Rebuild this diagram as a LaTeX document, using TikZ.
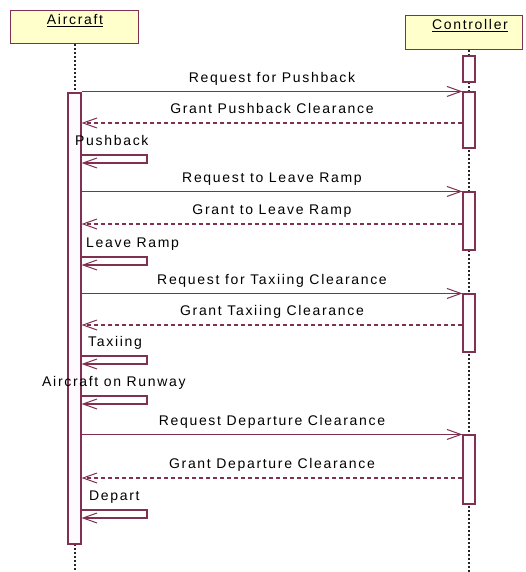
\documentclass[tikz,border=0pt]{standalone}
\usepackage{fontspec}
\setmainfont{Liberation Sans}[LetterSpace=12]
\usetikzlibrary{arrows.meta}
\definecolor{umlline}{RGB}{128,48,80}
\definecolor{headfill}{RGB}{255,255,204}
\definecolor{actfill}{RGB}{255,250,252}
\tikzset{
  head/.style={draw=umlline, fill=headfill, line width=1.1pt, inner sep=0pt, anchor=north west},
  actbox/.style={draw=umlline, fill=actfill, line width=1.1pt, inner sep=0pt, minimum width=13pt},
  lifeline/.style={black!85, line width=1.3pt, dash pattern=on 1.6pt off 2.4pt},
  msg/.style={umlline, line width=1.1pt, -{Straight Barb[length=14pt,width=10pt,line width=1pt]}},
  reply/.style={msg, dash pattern=on 4pt off 3pt},
  loopmsg/.style={msg, rounded corners=0pt},
  lbl/.style={font=\fontsize{14}{16}\selectfont, inner sep=0pt, text=black},
  mlbl/.style={lbl, anchor=base},
  slbl/.style={lbl, anchor=base west},
}
\begin{document}
\begin{tikzpicture}[x=1pt, y=-1pt]
\useasboundingbox (0,0) rectangle (525,572);
\fill[white] (0,0) rectangle (525,572);

% headers
\node[head, minimum width=128pt, minimum height=33pt] (A) at (10,10) {};
\node[head, minimum width=117pt, minimum height=34pt] (C) at (405,15) {};
\node[mlbl] (At) at (75,24.5) {\underline{Aircraft}};
\node[mlbl] (Ct) at (470,29.5) {\underline{Controller}};

% lifelines
\coordinate (Aend) at (75,572);
\coordinate (Cend) at (469,572);
\draw[lifeline] (A.south -| Aend) -- (Aend);
\draw[lifeline] (C.south -| Cend) -- (Cend);

% activations
\node[actbox, minimum height=451pt] (a1) at (74.5,318.5) {};
\node[actbox, minimum width=12pt, minimum height=26pt] (c1) at (469,69) {};
\node[actbox, minimum width=12pt, minimum height=56pt] (c2) at (469,120) {};
\node[actbox, minimum width=12pt, minimum height=58pt] (c3) at (469,221) {};
\node[actbox, minimum width=12pt, minimum height=58pt] (c4) at (469,323) {};
\node[actbox, minimum width=12pt, minimum height=69pt] (c5) at (469,469.5) {};

% y-levels of replies and self messages
\coordinate (r1) at (0,123);
\coordinate (r2) at (0,224);
\coordinate (r3) at (0,325);
\coordinate (r4) at (0,478);
\coordinate (s1) at (147,155);
\coordinate (s2) at (147,257);
\coordinate (s3) at (147,356);
\coordinate (s4) at (147,396);
\coordinate (s5) at (147,510);

% messages
\draw[msg] (a1.east |- c2.north west) -- (c2.north west);
\node[mlbl] (l1) at (272,82.5) {Request for Pushback};
\draw[reply] (c2.west |- r1) -- (a1.east |- r1);
\node[mlbl] (l2) at (272,113.5) {Grant Pushback Clearance};
\draw[loopmsg] (a1.east |- s1) -- (s1) -- ++(0,8) -- ([yshift=-8pt]a1.east |- s1);
\node[slbl] (l3) at (75,145.5) {Pushback};

\draw[msg] (a1.east |- c3.north west) -- (c3.north west);
\node[mlbl] (l4) at (272,182.5) {Request to Leave Ramp};
\draw[reply] (c3.west |- r2) -- (a1.east |- r2);
\node[mlbl] (l5) at (272,214.5) {Grant to Leave Ramp};
\draw[loopmsg] (a1.east |- s2) -- (s2) -- ++(0,8) -- ([yshift=-8pt]a1.east |- s2);
\node[slbl] (l6) at (86,247.5) {Leave Ramp};

\draw[msg] (a1.east |- c4.north west) -- (c4.north west);
\node[mlbl] (l7) at (272,284.5) {Request for Taxiing Clearance};
\draw[reply] (c4.west |- r3) -- (a1.east |- r3);
\node[mlbl] (l8) at (272,315.5) {Grant Taxiing Clearance};
\draw[loopmsg] (a1.east |- s3) -- (s3) -- ++(0,8) -- ([yshift=-8pt]a1.east |- s3);
\node[slbl] (l9) at (88,346.5) {Taxiing};

\draw[loopmsg] (a1.east |- s4) -- (s4) -- ++(0,8) -- ([yshift=-8pt]a1.east |- s4);
\node[slbl] (l10) at (42,386.5) {Aircraft on Runway};

\draw[msg] (a1.east |- c5.north west) -- (c5.north west);
\node[mlbl] (l11) at (272,425.5) {Request Departure Clearance};
\draw[reply] (c5.west |- r4) -- (a1.east |- r4);
\node[mlbl] (l12) at (272,468.5) {Grant Departure Clearance};
\draw[loopmsg] (a1.east |- s5) -- (s5) -- ++(0,8) -- ([yshift=-8pt]a1.east |- s5);
\node[slbl] (l13) at (89,500.5) {Depart};
\end{tikzpicture}
\end{document}
